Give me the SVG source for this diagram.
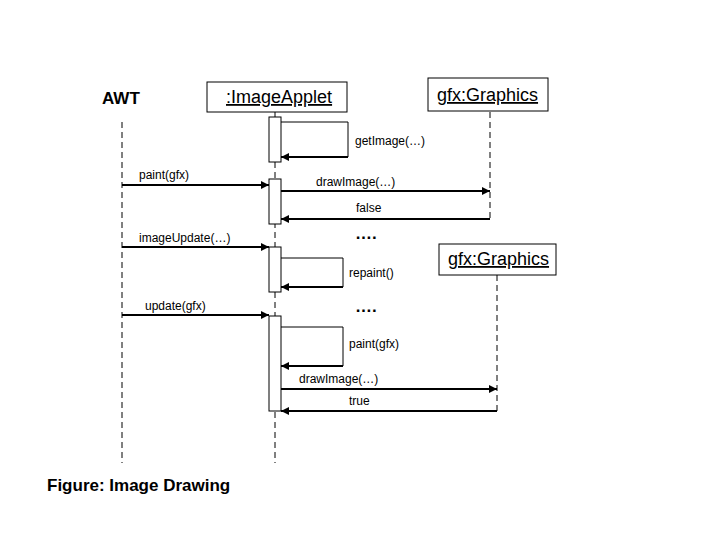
<svg xmlns="http://www.w3.org/2000/svg" width="720" height="540" viewBox="0 0 720 540">
<style>
.life{stroke:#000;stroke-width:1;stroke-dasharray:6 4;fill:none}
.box{fill:#fff;stroke:#000;stroke-width:1}
.title{font-family:"Liberation Sans",Arial,sans-serif;font-size:18px;text-decoration:underline;fill:#000}
.bold{font-family:"Liberation Sans",Arial,sans-serif;font-size:17px;font-weight:bold;fill:#000}
.lbl{font-family:"Liberation Sans",Arial,sans-serif;font-size:12px;fill:#000}
.msg{stroke:#000;stroke-width:2;fill:none;marker-end:url(#ah)}
.thin{stroke:#000;stroke-width:1;fill:none}
</style>
<defs>
<marker id="ah" markerUnits="userSpaceOnUse" markerWidth="9" markerHeight="8" refX="8" refY="4" orient="auto">
<path d="M0,0 L8,4 L0,8 z" fill="#000"/>
</marker>
</defs>
<rect width="720" height="540" fill="#fff"/>
<g id="awt">
<text class="bold" x="102" y="104">AWT</text>
<line class="life" x1="122" y1="122" x2="122" y2="463"/>
</g>
<g id="applet">
<line class="life" x1="275" y1="112" x2="275" y2="463"/>
<rect class="box" x="207" y="82" width="140" height="30"/>
<text class="title" x="226" y="103">:ImageApplet</text>
<rect class="box" x="269" y="117" width="12" height="45"/>
<rect class="box" x="269" y="179" width="12" height="45"/>
<rect class="box" x="269" y="247" width="12" height="45"/>
<rect class="box" x="269" y="316" width="12" height="95"/>
</g>
<g id="graphics1">
<line class="life" x1="490" y1="112" x2="490" y2="219"/>
<rect class="box" x="428" y="78" width="120" height="33"/>
<text class="title" x="437" y="101">gfx:Graphics</text>
</g>
<g id="graphics2">
<line class="life" x1="497" y1="275" x2="497" y2="411"/>
<rect class="box" x="439" y="244" width="117" height="31"/>
<text class="title" x="448" y="265">gfx:Graphics</text>
</g>
<g id="connectors">
<polyline class="thin" points="281,122 348,122 348,157"/>
<line class="msg" x1="348" y1="157" x2="281" y2="157"/>
<text class="lbl" x="355" y="145">getImage(…)</text>
<line class="msg" x1="122" y1="185" x2="269" y2="185"/>
<text class="lbl" x="139" y="179">paint(gfx)</text>
<line class="msg" x1="281" y1="191" x2="490" y2="191"/>
<text class="lbl" x="316" y="186">drawImage(…)</text>
<line class="msg" x1="490" y1="219" x2="281" y2="219"/>
<text class="lbl" x="356" y="212">false</text>
<text class="bold" x="355" y="239">….</text>
<line class="msg" x1="122" y1="247" x2="269" y2="247"/>
<text class="lbl" x="139" y="242">imageUpdate(…)</text>
<polyline class="thin" points="281,258 343,258 343,287"/>
<line class="msg" x1="343" y1="287" x2="281" y2="287"/>
<text class="lbl" x="349" y="277">repaint()</text>
<line class="msg" x1="122" y1="315" x2="269" y2="315"/>
<text class="lbl" x="145" y="310">update(gfx)</text>
<text class="bold" x="355" y="312">….</text>
<polyline class="thin" points="281,327 343,327 343,366"/>
<line class="msg" x1="343" y1="366" x2="281" y2="366"/>
<text class="lbl" x="349" y="348">paint(gfx)</text>
<line class="msg" x1="281" y1="389" x2="497" y2="389"/>
<text class="lbl" x="299" y="383">drawImage(…)</text>
<line class="msg" x1="497" y1="411" x2="281" y2="411"/>
<text class="lbl" x="349" y="405">true</text>
</g>
<text class="bold" x="47" y="491">Figure: Image Drawing</text>
</svg>
